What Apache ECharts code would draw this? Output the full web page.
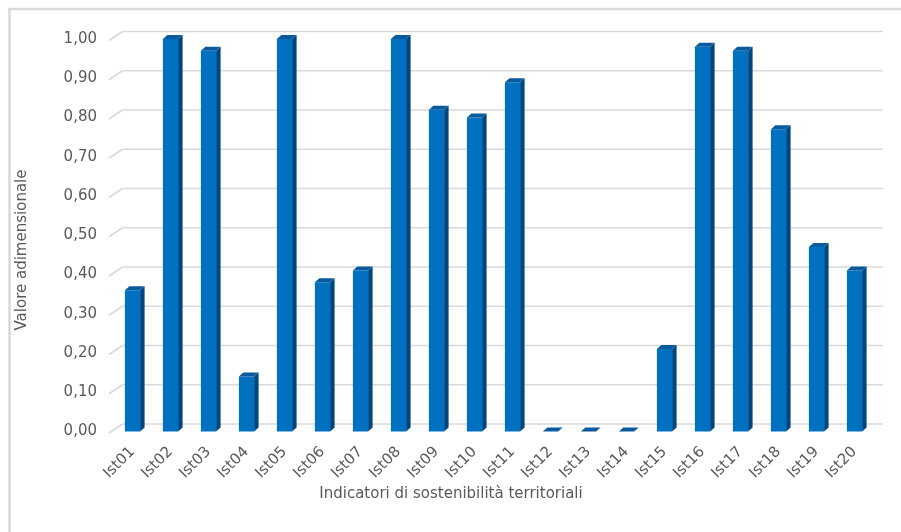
<!DOCTYPE html>
<html>
<head>
<meta charset="utf-8">
<script src="https://cdn.jsdelivr.net/npm/echarts@6/dist/echarts.min.js"></script>
<style>
  html, body { margin: 0; padding: 0; background: #ffffff; }
  #chart { width: 901px; height: 532px; }
</style>
</head>
<body>
<div id="chart"></div>
<script>
// Indicator codes along the horizontal axis
const categories = ['Ist01', 'Ist02', 'Ist03', 'Ist04', 'Ist05', 'Ist06', 'Ist07', 'Ist08', 'Ist09', 'Ist10',
                    'Ist11', 'Ist12', 'Ist13', 'Ist14', 'Ist15', 'Ist16', 'Ist17', 'Ist18', 'Ist19', 'Ist20'];
// Dimensionless score of each indicator
const values = [0.36, 1.00, 0.97, 0.14, 1.00, 0.38, 0.41, 1.00, 0.82, 0.80,
                0.89, 0.00, 0.00, 0.00, 0.21, 0.98, 0.97, 0.77, 0.47, 0.41];
// Value-axis ticks (also used for the back-wall gridlines)
const tickValues = [0, 0.1, 0.2, 0.3, 0.4, 0.5, 0.6, 0.7, 0.8, 0.9, 1.0];

const xTitle = 'Indicatori di sostenibilità territoriali';
const yTitle = 'Valore adimensionale';

const FONT = '"DejaVu Sans", Verdana, sans-serif';
const TEXT = '#595959';
const GRID = '#d9d9d9';

const chart = echarts.init(document.getElementById('chart'), null, { renderer: 'canvas' });

// Back wall gridlines with the short perspective segment on the left
function renderWall(params, api) {
  const cs = params.coordSys;
  const y = api.coord([0, api.value(1)])[1];
  const style = { stroke: GRID, lineWidth: 1.6 };
  return {
    type: 'group',
    children: [
      { type: 'line', shape: { x1: cs.x - 4.5, y1: y + 1.5, x2: cs.x + 9, y2: y - 7.5 }, style },
      { type: 'line', shape: { x1: cs.x + 9, y1: y - 7.5, x2: cs.x + cs.width + 9.5, y2: y - 7.5 }, style }
    ]
  };
}

// Extruded column: front face, right side face and top cap
function renderColumn(params, api) {
  const i = api.value(0);
  const v = api.value(1);
  const top = api.coord([i, v]);
  const base = api.coord([i, 0]);
  const band = api.size([1, 0])[0];
  const w = band * 0.4;
  const d = 4.5;     // depth offset, horizontal
  const h = 4;       // depth offset, vertical
  const x0 = top[0] - w / 2;
  const x1 = top[0] + w / 2;
  const yt = top[1];
  const yb = base[1];
  const children = [];
  if (yb - yt > 0.5) {
    children.push({
      type: 'polygon',
      shape: { points: [[x1, yt], [x1 + d, yt - h], [x1 + d, yb - h], [x1, yb]] },
      style: { fill: '#00467f' }
    });
    children.push({
      type: 'rect',
      shape: { x: x0, y: yt, width: w, height: yb - yt },
      style: { fill: '#0070c0' }
    });
  }
  children.push({
    type: 'polygon',
    shape: { points: [[x0, yt], [x0 + d, yt - h], [x1 + d, yt - h], [x1, yt]] },
    style: { fill: '#0a5a9e' }
  });
  return { type: 'group', children };
}

const option = {
  animation: false,
  backgroundColor: '#ffffff',
  textStyle: { fontFamily: FONT },
  grid: { left: 113.5, right: 27.5, top: 39, bottom: 100.5, containLabel: false },
  xAxis: {
    type: 'category',
    data: categories,
    axisLine: { show: false },
    axisTick: { show: false },
    splitLine: { show: false },
    axisLabel: {
      rotate: 45,
      interval: 0,
      margin: 18,
      color: TEXT,
      fontSize: 15,
      fontFamily: FONT
    }
  },
  yAxis: {
    type: 'value',
    min: 0,
    max: 1,
    interval: 0.1,
    axisLine: { show: false },
    axisTick: { show: false },
    splitLine: { show: false },
    axisLabel: {
      margin: 16.5,
      color: TEXT,
      fontSize: 15,
      fontFamily: FONT,
      padding: [4, 0, 0, 0],
      formatter: (v) => v.toFixed(2).replace('.', ',')
    }
  },
  series: [
    {
      type: 'custom',
      name: 'wall',
      silent: true,
      clip: false,
      z: 1,
      renderItem: renderWall,
      encode: { x: 0, y: 1 },
      data: tickValues.map((v) => [0, v])
    },
    {
      type: 'custom',
      name: 'Valore',
      clip: false,
      z: 5,
      renderItem: renderColumn,
      encode: { x: 0, y: 1 },
      data: values.map((v, i) => [i, v])
    }
  ],
  graphic: [
    {
      type: 'rect',
      left: 7,
      top: 6.5,
      shape: { width: 1000, height: 1000 },
      style: { fill: 'none', stroke: GRID, lineWidth: 2.5 },
      silent: true,
      z: 0
    },
    {
      type: 'text',
      x: 451,
      y: 494,
      style: {
        text: xTitle,
        fill: TEXT,
        font: '15px ' + FONT,
        align: 'center',
        verticalAlign: 'middle'
      }
    },
    {
      type: 'text',
      x: 22,
      y: 250,
      rotation: Math.PI / 2,
      style: {
        text: yTitle,
        fill: TEXT,
        font: '15px ' + FONT,
        align: 'center',
        verticalAlign: 'middle'
      }
    }
  ]
};

chart.setOption(option);
</script>
</body>
</html>
